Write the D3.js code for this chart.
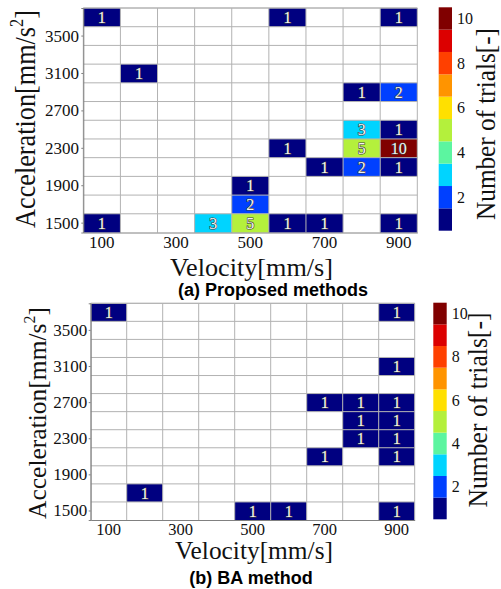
<!DOCTYPE html>
<html><head><meta charset="utf-8">
<script src="https://cdn.jsdelivr.net/npm/d3@7/dist/d3.min.js"></script>
<style>html,body{margin:0;padding:0;background:#fff;}svg{display:block;}</style>
</head><body>
<svg id="chart" width="501" height="589"></svg>
<script>
// ---------- data ----------
const velocities = [100, 200, 300, 400, 500, 600, 700, 800, 900];
const accelerations = [1500, 1700, 1900, 2100, 2300, 2500, 2700, 2900, 3100, 3300, 3500, 3700];
const velocityTicks = [100, 300, 500, 700, 900];
const accelerationTicks = [1500, 1900, 2300, 2700, 3100, 3500];
const countLevels = [1, 2, 3, 4, 5, 6, 7, 8, 9, 10];
const countTicks = [2, 4, 6, 8, 10];
const levelColors = ["#000080", "#0040ff", "#00d4ff", "#5cf5a0", "#b4f03c",
                     "#ffe000", "#ff9400", "#ff4000", "#dc0000", "#800000"];

// [velocity, acceleration, number of trials]
const proposedCells = [
  [100, 3700, 1], [600, 3700, 1], [900, 3700, 1],
  [200, 3100, 1],
  [800, 2900, 1], [900, 2900, 2],
  [800, 2500, 3], [900, 2500, 1],
  [600, 2300, 1], [800, 2300, 5], [900, 2300, 10],
  [700, 2100, 1], [800, 2100, 2], [900, 2100, 1],
  [500, 1900, 1],
  [500, 1700, 2],
  [100, 1500, 1], [400, 1500, 3], [500, 1500, 5], [600, 1500, 1], [700, 1500, 1], [900, 1500, 1]
];
const baCells = [
  [100, 3700, 1], [900, 3700, 1],
  [900, 3100, 1],
  [700, 2700, 1], [800, 2700, 1], [900, 2700, 1],
  [800, 2500, 1], [900, 2500, 1],
  [800, 2300, 1], [900, 2300, 1],
  [700, 2100, 1], [900, 2100, 1],
  [200, 1700, 1],
  [500, 1500, 1], [600, 1500, 1], [900, 1500, 1]
];
const panelTitles = ["(a) Proposed methods", "(b) BA method"];
const xTitle = "Velocity[mm/s]";
const yTitleMain = "Acceleration[mm/s";
const cbTitle = "Number of trials[-]";

// ---------- layout ----------
const SERIF = "'Liberation Serif','Times New Roman',serif";
const SANS = "'Liberation Sans',Arial,sans-serif";
const layouts = [
  { x0: 83.3, x1: 417.3, y0: 8, y1: 232.5, tickPad: 2.3, xTickPad: 3, xTickSize: 17,
    yTitle: { x: 35, y: 119, len: 218, size: 29 },
    xTitleL: { x: 251.5, y: 275.5, len: 163, size: 26 },
    cb: { x: 438.7, w: 13.3, y0: 7.3, y1: 230.7, labelX: 457 },
    cbTitleL: { x: 495, y: 124, len: 192, size: 28 },
    title: { x: 273, y: 296 } },
  { x0: 90.7, x1: 414.7, y0: 303.3, y1: 520, tickPad: 1.4, xTickPad: 3, xTickSize: 16.5,
    yTitle: { x: 46, y: 413, len: 212, size: 26 },
    xTitleL: { x: 254, y: 559, len: 158, size: 25 },
    cb: { x: 433.3, w: 13.4, y0: 302.7, y1: 519.3, labelX: 451.7 },
    cbTitleL: { x: 487, y: 410, len: 195, size: 28 },
    title: { x: 251, y: 584 } }
];

const svg = d3.select("#chart");
const color = d3.scaleOrdinal().domain(countLevels).range(levelColors);

function fitAlong(textSel, target) {
  const w = textSel.node().getBBox().width;
  const s = target / w;
  textSel.attr("transform", `scale(${s},1)`);
}

function drawPanel(L, cells, title) {
  const g = svg.append("g");
  const x = d3.scaleBand().domain(velocities).range([L.x0, L.x1]);
  const y = d3.scaleBand().domain(accelerations).range([L.y1, L.y0]);

  // cells
  g.append("g").selectAll("rect").data(cells).join("rect")
    .attr("x", d => x(d[0])).attr("y", d => y(d[1]))
    .attr("width", x.bandwidth()).attr("height", y.bandwidth())
    .attr("fill", d => color(d[2]));

  // grid
  const grid = g.append("g").attr("stroke", "#b2b2b2").attr("stroke-width", 1).attr("fill", "none");
  const xs = velocities.map(v => x(v)).concat([L.x1]);
  const ys = accelerations.map(a => y(a)).concat([L.y0]);
  xs.forEach(px => grid.append("line").attr("x1", px).attr("x2", px).attr("y1", L.y0).attr("y2", L.y1));
  ys.forEach(py => grid.append("line").attr("x1", L.x0).attr("x2", L.x1).attr("y1", py).attr("y2", py));

  // cell labels
  g.append("g").selectAll("text").data(cells).join("text")
    .attr("x", d => x(d[0]) + x.bandwidth() / 2)
    .attr("y", d => y(d[1]) + y.bandwidth() / 2)
    .attr("dy", "0.35em")
    .attr("text-anchor", "middle")
    .attr("font-family", SERIF).attr("font-size", 16)
    .attr("fill", "#f4f4f4").attr("stroke", "#404040").attr("stroke-width", 1.2)
    .attr("paint-order", "stroke")
    .text(d => d[2]);

  // axes
  const yAxis = d3.axisLeft(y).tickValues(accelerationTicks).tickSize(2).tickPadding(L.tickPad);
  const ya = g.append("g").attr("transform", `translate(${L.x0},0)`).call(yAxis);
  const xAxis = d3.axisBottom(x).tickValues(velocityTicks).tickSize(0).tickPadding(L.xTickPad);
  const xa = g.append("g").attr("transform", `translate(0,${L.y1})`).call(xAxis);
  [ya, xa].forEach(a => {
    a.select(".domain").attr("stroke", "#808080");
    a.selectAll(".tick line").attr("stroke", "#808080");
    a.selectAll("text").attr("font-family", SERIF).attr("font-size", 17).attr("fill", "#111");
  });
  xa.selectAll("text").attr("font-size", L.xTickSize);

  // y title (rotated)
  const yt = g.append("g").attr("transform", `translate(${L.yTitle.x},${L.yTitle.y}) rotate(-90)`)
    .append("text").attr("text-anchor", "middle")
    .attr("font-family", SERIF).attr("font-size", L.yTitle.size).attr("fill", "#111");
  yt.append("tspan").text(yTitleMain);
  yt.append("tspan").attr("font-size", L.yTitle.size * 0.62).attr("dy", -L.yTitle.size * 0.42).text("2");
  yt.append("tspan").attr("dy", L.yTitle.size * 0.42).text("]");
  fitAlong(yt, L.yTitle.len);

  // x title
  const xt = g.append("g").attr("transform", `translate(${L.xTitleL.x},${L.xTitleL.y})`)
    .append("text").attr("text-anchor", "middle")
    .attr("font-family", SERIF).attr("font-size", L.xTitleL.size).attr("fill", "#111")
    .text(xTitle);
  fitAlong(xt, L.xTitleL.len);

  // colorbar
  const cy = d3.scaleLinear().domain([0.5, 10.5]).range([L.cb.y1, L.cb.y0]);
  const cbg = g.append("g");
  cbg.selectAll("rect").data(countLevels).join("rect")
    .attr("x", L.cb.x).attr("width", L.cb.w)
    .attr("y", d => cy(d + 0.5)).attr("height", d => cy(d - 0.5) - cy(d + 0.5))
    .attr("fill", d => color(d));
  cbg.selectAll("text").data(countTicks).join("text")
    .attr("x", L.cb.labelX).attr("y", d => cy(d)).attr("dy", "0.35em")
    .attr("font-family", SERIF).attr("font-size", 16).attr("fill", "#111")
    .text(d => d);

  const ct = g.append("g").attr("transform", `translate(${L.cbTitleL.x},${L.cbTitleL.y}) rotate(-90)`)
    .append("text").attr("text-anchor", "middle")
    .attr("font-family", SERIF).attr("font-size", L.cbTitleL.size).attr("fill", "#111")
    .text(cbTitle);
  fitAlong(ct, L.cbTitleL.len);

  // panel title
  g.append("text").attr("x", L.title.x).attr("y", L.title.y)
    .attr("text-anchor", "middle").attr("font-family", SANS).attr("font-weight", "bold")
    .attr("font-size", 18).attr("fill", "#000").text(title);
}

drawPanel(layouts[0], proposedCells, panelTitles[0]);
drawPanel(layouts[1], baCells, panelTitles[1]);
</script>
</body></html>
